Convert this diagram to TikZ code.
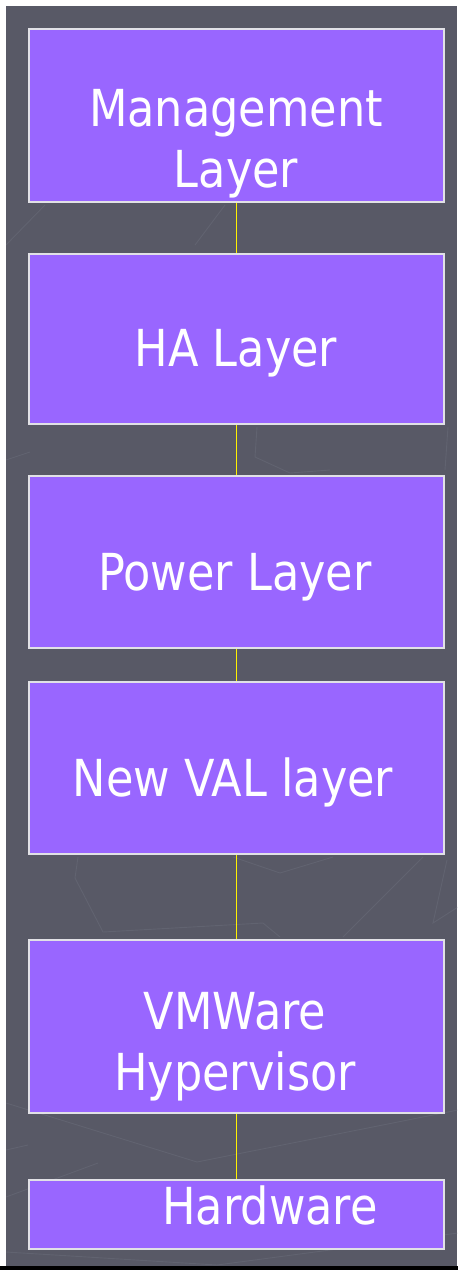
\documentclass[tikz,border=0pt]{standalone}
\usepackage{fontspec}
\setmainfont{DejaVu Sans}[FakeStretch=0.875]
\definecolor{bggray}{RGB}{88,89,102}
\definecolor{bgline}{RGB}{97,99,112}
\definecolor{boxpurple}{RGB}{153,102,255}
\definecolor{boxedge}{RGB}{225,225,230}
\begin{document}
\begin{tikzpicture}[x=1pt,y=-1pt,
  layerbox/.style={draw=boxedge,line width=1.8pt,fill=boxpurple,minimum width=415pt,inner sep=0pt,anchor=north west},
  layertext/.style={text=white,font=\fontsize{51}{61}\selectfont,anchor=base,inner sep=0pt,align=center},
  link/.style={draw=yellow,line width=1.5pt},
  deco/.style={draw=bgline,line width=0.9pt}]
\useasboundingbox (0,0) rectangle (458,1270);
\fill[white] (0,0) rectangle (458,1270);
\fill[bggray] (6,6) rectangle (457,1266);
\fill[black] (0,1266) rectangle (458,1270);
% faint background decoration
\begin{scope}
\clip (6,6) rectangle (457,1266);
\draw[deco] (6,245) -- (45,205);
\draw[deco] (195,245) -- (225,205);
\draw[deco] (257,427) -- (255,457) -- (290,473) -- (330,470);
\draw[deco] (448,427) -- (445,470);
\draw[deco] (6,460) -- (30,452);
\draw[deco] (78,857) -- (75,878) -- (103,932) -- (263,923) -- (280,937);
\draw[deco] (233,857) -- (280,873) -- (333,857);
\draw[deco] (423,857) -- (343,937);
\draw[deco] (447,860) -- (433,923) -- (458,907);
\draw[deco] (6,1103) -- (197,1162) -- (458,1110);
\draw[deco] (98,1163) -- (6,1197);
\draw[deco] (6,1252) -- (217,1265);
\draw[deco] (217,1265) -- (458,1233);
\draw[deco] (6,1150) -- (28,1145);
\end{scope}
% boxes
\node[layerbox,minimum height=173pt] (mgmt) at (28,28) {};
\node[layerbox,minimum height=170pt] (ha) at (28,253) {};
\node[layerbox,minimum height=172pt] (power) at (28,475) {};
\node[layerbox,minimum height=172pt] (val) at (28,681) {};
\node[layerbox,minimum height=173pt] (vmw) at (28,939) {};
\node[layerbox,minimum height=69pt] (hw) at (28,1179) {};
% texts (base anchor = baseline of last line)
\node[layertext] (tmgmt) at (236,187) {Management\\Layer};
\node[layertext] (tha) at (236,366) {HA Layer};
\node[layertext] (tpower) at (235,590) {Power Layer};
\node[layertext] (tval) at (233,796) {New VAL layer};
\node[layertext] (tvmw) at (235,1090) {VMWare\\Hypervisor};
\node[layertext] (thw) at (270,1224) {Hardware};
% connectors
\draw[link] (mgmt.south) -- (ha.north);
\draw[link] (ha.south) -- (power.north);
\draw[link] (power.south) -- (val.north);
\draw[link] (val.south) -- (vmw.north);
\draw[link] (vmw.south) -- (hw.north);
\end{tikzpicture}
\end{document}
